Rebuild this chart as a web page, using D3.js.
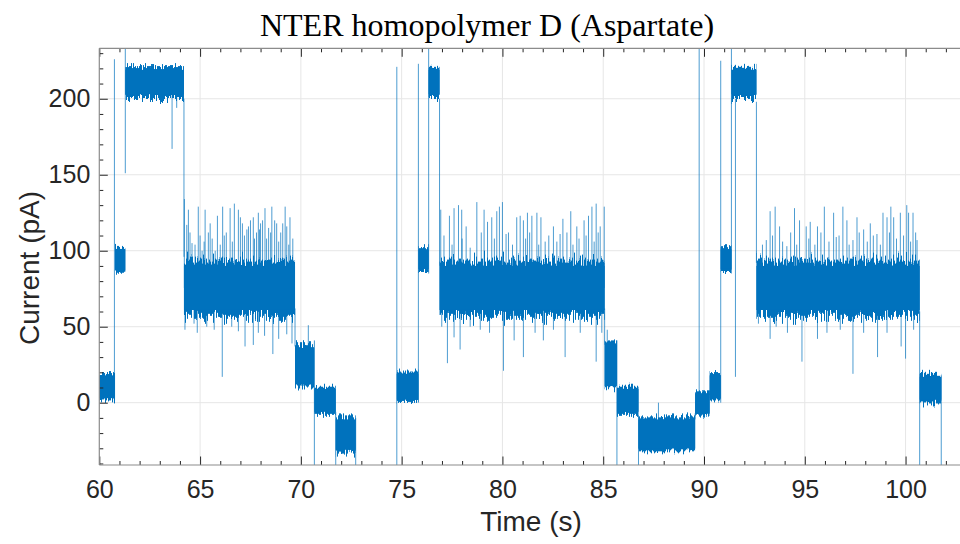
<!DOCTYPE html>
<html><head><meta charset="utf-8">
<script src="https://cdn.jsdelivr.net/npm/d3@7"></script>
<style>body{margin:0;background:#fff}svg{display:block}</style>
</head><body>
<svg id="chart" width="960" height="544"></svg>
<script>
const chartTitle = "NTER homopolymer D (Aspartate)";
const xLabel = "Time (s)";
const yLabel = "Current (pA)";
const timeDomain = [60, 102.75];
const currentDomain = [-41, 233.2];
const timeTicks = [60, 65, 70, 75, 80, 85, 90, 95, 100];
const currentTicks = [0, 50, 100, 150, 200];

// current levels (dense noise bands)
const segStart = [60.00, 60.78, 61.29, 64.20, 69.71, 70.67, 71.73, 74.76, 75.83, 76.34, 76.88, 85.07, 85.68, 86.75, 89.56, 90.28, 90.83, 91.36, 92.60, 100.70];
const segEnd   = [60.78, 61.29, 64.20, 69.71, 70.66, 71.73, 72.72, 75.83, 76.34, 76.88, 85.07, 85.68, 86.75, 89.56, 90.28, 90.83, 91.36, 92.60, 100.70, 101.77];
const coreLow  = [3, 87, 203, 61, 12, -6, -31, 2, 88, 203, 61, 11, -6, -30, -7, 3, 88, 203, 61, 2];
const coreHigh = [18, 101, 219, 90, 36, 9, -11, 19, 101, 219, 90, 38, 9, -11, 6, 18, 101, 219, 90, 17];
const fuzzLow  = [0, 84, 198, 52, 8, -10, -36, -1, 84, 198, 52, 8, -10, -34, -10, 0, 84, 198, 52, -3];
const fuzzHigh = [21, 104, 224, 97, 41, 12, -7, 22, 105, 223, 97, 44, 12, -7, 9, 21, 105, 223, 97, 21];

// short spikes (time, peak current)
const spikeTime = [
  63.61, 63.84, 70.37, 85.20, 87.74,
  64.22, 64.42, 64.34, 64.91, 65.25, 65.41, 65.86, 66.12, 66.49, 66.70, 66.90, 67.32, 67.64, 67.89, 68.22, 68.56, 68.80, 69.22, 69.46,
  64.60, 65.00, 65.60, 66.30, 67.10, 67.50, 67.80, 68.00, 68.40, 68.70, 69.00, 69.30, 69.60, 66.00, 65.10,
  64.50, 64.75, 65.20, 65.50, 65.75, 66.20, 66.60, 67.00, 67.20, 67.40, 67.70, 67.95, 68.10, 68.30, 68.50, 68.90, 69.10, 69.40,
  64.25, 64.86, 65.33, 66.10, 66.57, 67.23, 67.64, 67.89, 68.61, 69.56, 64.70, 65.70, 66.90, 68.20, 68.90, 69.30,
  76.94, 77.37, 77.60, 77.82, 77.98, 78.20, 78.73, 79.09, 79.26, 79.47, 79.72, 79.85, 80.00, 80.18, 80.71, 80.88, 81.04, 81.24, 81.46, 81.71, 81.91, 82.12, 82.53, 82.86, 83.00, 83.39, 83.69, 84.05, 84.27, 84.44, 84.65, 84.85, 85.05,
  77.10, 77.50, 78.00, 78.40, 78.95, 79.60, 80.30, 80.50, 81.15, 81.35, 81.80, 82.30, 82.70, 83.20, 83.50, 83.80, 84.15, 84.55, 84.75,
  76.99, 77.27, 77.60, 77.90, 78.40, 78.90, 79.36, 80.05, 80.58, 81.04, 81.62, 82.03, 82.53, 83.11, 83.86, 84.65, 84.93,
  92.70, 93.09, 93.28, 93.53, 93.75, 94.11, 94.49, 94.74, 95.07, 95.27, 95.63, 95.97, 96.43, 96.56, 96.89, 97.09, 97.39, 97.59, 97.92, 98.25, 98.58, 98.88, 99.08, 99.27, 99.41, 99.74, 100.06, 100.15, 100.37, 100.57,
  92.90, 93.40, 93.90, 94.30, 94.60, 95.20, 95.50, 95.80, 96.20, 96.70, 97.20, 97.70, 98.10, 98.40, 98.75, 99.20, 99.55, 99.90, 100.25, 100.50,
  92.70, 93.28, 93.58, 94.14, 94.86, 95.63, 96.10, 96.76, 97.39, 97.92, 98.61, 99.08, 99.78, 100.00, 100.40
];
const spikeValue = [
  167, 194, 51, 48, 0,
  134, 127, 117, 129, 127, 112, 123, 129, 128, 131, 127, 114, 122, 125, 128, 129, 118, 129, 122,
  105, 110, 108, 112, 118, 120, 112, 118, 115, 120, 112, 116, 108, 104, 100,
  112, 104, 106, 118, 100, 110, 106, 122, 110, 116, 108, 114, 120, 108, 112, 106, 118, 104,
  48, 46, 50, 17, 50, 37, 38, 46, 32, 39, 52, 48, 47, 44, 42, 45,
  127, 123, 128, 130, 127, 116, 132, 127, 119, 122, 126, 129, 132, 111, 122, 123, 120, 125, 123, 125, 122, 106, 116, 111, 121, 126, 116, 120, 123, 129, 131, 116, 129,
  110, 104, 108, 102, 112, 108, 112, 104, 108, 112, 104, 110, 106, 112, 104, 108, 110, 106, 112,
  50, 26, 43, 35, 50, 48, 46, 21, 41, 30, 46, 41, 48, 30, 46, 27, 46,
  94, 107, 126, 129, 116, 103, 128, 120, 116, 119, 116, 129, 125, 109, 129, 120, 107, 122, 114, 118, 111, 125, 122, 129, 122, 125, 130, 125, 125, 107,
  104, 110, 106, 112, 104, 108, 104, 112, 106, 110, 104, 112, 106, 110, 104, 112, 108, 110, 106, 112,
  52, 42, 50, 46, 27, 42, 46, 48, 19, 46, 30, 46, 37, 29, 48
];

// long excursions / transitions (time, from, to)
const excTime = [60.75, 61.29, 64.20, 69.71, 70.67, 71.73, 72.72, 74.76, 75.83, 76.34, 76.88, 85.07, 85.68, 86.75, 89.56, 89.76, 90.28, 90.83, 91.36, 91.56, 92.60, 100.70, 101.77];
const excFrom = [0, 151, 96, 37, -45, -45, -45, -45, 0, 85, 90, 38, -45, -45, -11, -5, 5, 0, 85, 17, 92, -45, -45];
const excTo   = [226, 250, 200, 62, 41, -6, -10, 221, 223, 250, 200, 62, 41, -8, -7, 250, 8, 225, 250, 200, 198, 60, 18];

const L = 99.3, R = 961, T = 48.3, B = 465;
const blue = "#0072BD";
const svg = d3.select("#chart");

const x = d3.scaleLinear().domain(timeDomain).range([L, R]);
const y = d3.scaleLinear().domain(currentDomain).range([B, T]);

const defs = svg.append("defs");
defs.append("clipPath").attr("id", "clip")
  .append("rect").attr("x", L).attr("y", T).attr("width", R - L).attr("height", B - T);

// edge-roughening filters (texture only: vertical jitter of band edges)
const jitterScales = [8, 14, 20, 26, 32];
jitterScales.forEach((s, k) => {
  const f = defs.append("filter").attr("id", "rough" + k).attr("filterUnits", "userSpaceOnUse")
    .attr("x", 0).attr("y", 0).attr("width", 960).attr("height", 544);
  f.append("feTurbulence").attr("type", "fractalNoise").attr("baseFrequency", "0.9 0.015")
    .attr("numOctaves", 2).attr("seed", 3 + k).attr("result", "n");
  f.append("feColorMatrix").attr("in", "n").attr("type", "matrix")
    .attr("values", "0 0 0 0 0.5  0 1 0 0 0  0 0 1 0 0  0 0 0 0 1").attr("result", "m");
  f.append("feDisplacementMap").attr("in", "SourceGraphic").attr("in2", "m")
    .attr("scale", s).attr("xChannelSelector", "R").attr("yChannelSelector", "G");
});

// grid
const grid = svg.append("g");
grid.selectAll(".gx").data(timeTicks.slice(1)).join("line")
  .attr("x1", d => x(d)).attr("x2", d => x(d)).attr("y1", T).attr("y2", B)
  .attr("stroke", "#e6e6e6").attr("stroke-width", 1);
grid.selectAll(".gy").data(currentTicks).join("line")
  .attr("x1", L).attr("x2", R).attr("y1", d => y(d)).attr("y2", d => y(d))
  .attr("stroke", "#e6e6e6").attr("stroke-width", 1);

const plot = svg.append("g").attr("clip-path", "url(#clip)");
const segIdx = d3.range(segStart.length);

// excursions
plot.selectAll(".exc").data(d3.range(excTime.length)).join("line")
  .attr("x1", i => x(excTime[i])).attr("x2", i => x(excTime[i]))
  .attr("y1", i => y(excFrom[i])).attr("y2", i => y(excTo[i]))
  .attr("stroke", blue).attr("stroke-width", 1).attr("stroke-opacity", 0.7);

// spikes
function baseFor(t) {
  const i = segIdx.find(k => t >= segStart[k] && t <= segEnd[k]);
  return i === undefined ? 0 : (coreLow[i] + coreHigh[i]) / 2;
}
plot.selectAll(".spk").data(d3.range(spikeTime.length)).join("line")
  .attr("x1", i => x(spikeTime[i])).attr("x2", i => x(spikeTime[i]))
  .attr("y1", i => y(baseFor(spikeTime[i]))).attr("y2", i => y(spikeValue[i]))
  .attr("stroke", blue).attr("stroke-width", 1).attr("stroke-opacity", 0.7);

// fuzzy bands: edges sit midway between core and fuzz limits, jittered across that margin
function marginPx(i) {
  return Math.max(y(fuzzLow[i]) - y(coreLow[i]), y(coreHigh[i]) - y(fuzzHigh[i]));
}
function jitterIndex(i) {
  const want = 2.5 * marginPx(i);
  let best = 0;
  jitterScales.forEach((s, k) => { if (Math.abs(s - want) < Math.abs(jitterScales[best] - want)) best = k; });
  return best;
}
segIdx.forEach(i => {
  const top = (coreHigh[i] + fuzzHigh[i]) / 2, bot = (coreLow[i] + fuzzLow[i]) / 2;
  plot.append("g").attr("filter", `url(#rough${jitterIndex(i)})`)
    .append("rect")
    .attr("x", x(segStart[i])).attr("width", x(segEnd[i]) - x(segStart[i]))
    .attr("y", y(top)).attr("height", y(bot) - y(top))
    .attr("fill", blue);
});
// solid core so the band interior is never broken
plot.selectAll(".core").data(segIdx).join("rect")
  .attr("x", i => x(segStart[i])).attr("width", i => x(segEnd[i]) - x(segStart[i]))
  .attr("y", i => y(coreHigh[i])).attr("height", i => y(coreLow[i]) - y(coreHigh[i]))
  .attr("fill", blue);

// axes
const minorX = d3.range(60, 103, 1).filter(v => v % 5 !== 0);
const minorY = d3.range(-40, 234, 10).filter(v => v % 50 !== 0);
const tickCol = "#262626", axisCol = "#8c8c8c";
const fontSans = "'Liberation Sans', Arial, Helvetica, sans-serif";

function styleAxis(g) {
  g.select(".domain").remove();
  g.selectAll(".tick line").attr("stroke", tickCol);
  g.selectAll("text").attr("fill", "#262626").attr("font-family", fontSans).attr("font-size", 25);
}
svg.append("g").attr("transform", `translate(0,${B})`)
  .call(d3.axisBottom(x).tickValues(timeTicks).tickSize(-8.5).tickPadding(15).tickFormat(d3.format("d")))
  .call(styleAxis);
svg.append("g").attr("transform", `translate(0,${B})`)
  .call(d3.axisBottom(x).tickValues(minorX).tickSize(-4).tickFormat(""))
  .call(styleAxis);
svg.append("g").attr("transform", `translate(0,${T})`)
  .call(d3.axisTop(x).tickValues(timeTicks).tickSize(-8.5).tickFormat(""))
  .call(styleAxis);
svg.append("g").attr("transform", `translate(0,${T})`)
  .call(d3.axisTop(x).tickValues(minorX).tickSize(-4).tickFormat(""))
  .call(styleAxis);
svg.append("g").attr("transform", `translate(${L},0)`)
  .call(d3.axisLeft(y).tickValues(currentTicks).tickSize(-8.5).tickPadding(9).tickFormat(d3.format("d")))
  .call(styleAxis);
svg.append("g").attr("transform", `translate(${L},0)`)
  .call(d3.axisLeft(y).tickValues(minorY).tickSize(-4).tickFormat(""))
  .call(styleAxis);

svg.append("line").attr("x1", L).attr("x2", R).attr("y1", B).attr("y2", B).attr("stroke", axisCol).attr("stroke-width", 1.2);
svg.append("line").attr("x1", L).attr("x2", R).attr("y1", T).attr("y2", T).attr("stroke", axisCol).attr("stroke-width", 1.2);
svg.append("line").attr("x1", L).attr("x2", L).attr("y1", T).attr("y2", B).attr("stroke", axisCol).attr("stroke-width", 1.2);

// labels
svg.append("text").attr("x", 487).attr("y", 36).attr("text-anchor", "middle")
  .attr("font-family", "'Liberation Serif', 'Times New Roman', serif").attr("font-size", 32).attr("fill", "#000")
  .text(chartTitle);
svg.append("text").attr("x", 531).attr("y", 531).attr("text-anchor", "middle")
  .attr("font-family", fontSans).attr("font-size", 28).attr("fill", "#262626").text(xLabel);
svg.append("text").attr("transform", "translate(39,268) rotate(-90)").attr("text-anchor", "middle")
  .attr("font-family", fontSans).attr("font-size", 28).attr("fill", "#262626").text(yLabel);
</script>
</body></html>
